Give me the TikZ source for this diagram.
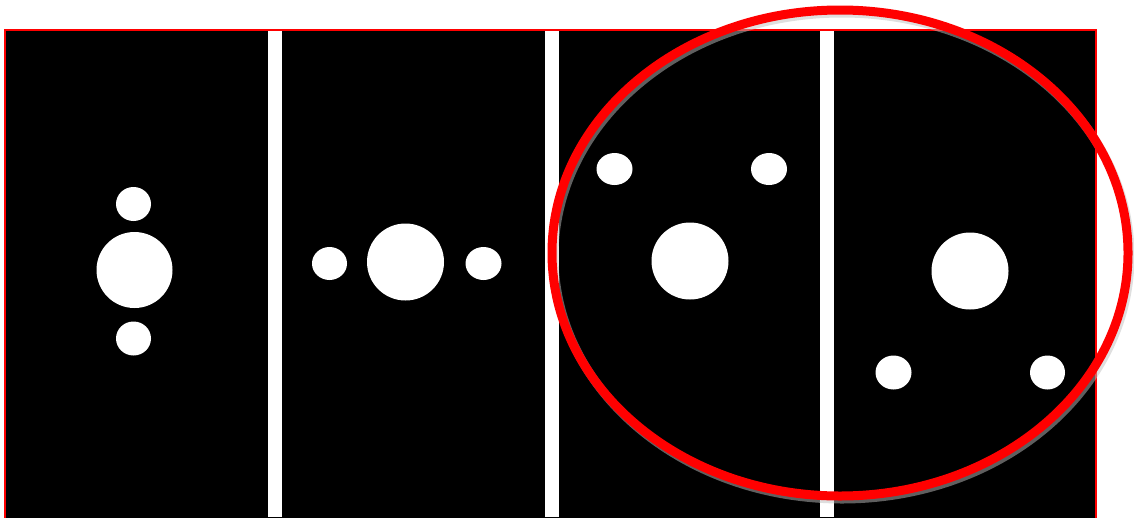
\documentclass[tikz,border=0pt]{standalone}
\begin{document}
\begin{tikzpicture}[x=1pt,y=-1pt,
  bigdot/.style={fill=white},
  smalldot/.style={fill=white},
  stripe/.style={fill=white},
  ring/.style={draw=red,line width=9pt}]
\useasboundingbox (0,0) rectangle (1134,517);
\clip (0,0) rectangle (1134,517);
% black panel with thin red border
\filldraw[fill=black,draw=red,line width=1.5pt] (5,30) rectangle (1096,530);
% white separating stripes
\fill[stripe] (268,31) rectangle (282,517);
\fill[stripe] (545,31) rectangle (559,517);
\fill[stripe] (820,31) rectangle (834,517);
% panel 1
\fill[bigdot] (134.5,270) circle[radius=38];
\fill[smalldot] (133.5,204) ellipse[x radius=17.5,y radius=17];
\fill[smalldot] (133.5,338.5) ellipse[x radius=17.5,y radius=17];
% panel 2
\fill[bigdot] (405.5,262) circle[radius=38.5];
\fill[smalldot] (329.5,263.5) ellipse[x radius=17.5,y radius=16.5];
\fill[smalldot] (483.5,263.5) ellipse[x radius=18,y radius=16.5];
% panel 3
\fill[bigdot] (690,261) circle[radius=38.5];
\fill[smalldot] (614.5,169) ellipse[x radius=18,y radius=16];
\fill[smalldot] (769,169) ellipse[x radius=18,y radius=16];
% panel 4
\fill[bigdot] (970,271) circle[radius=38.5];
\fill[smalldot] (893.5,372.5) ellipse[x radius=18,y radius=17];
\fill[smalldot] (1047.5,372.5) ellipse[x radius=17.5,y radius=17];
% red ellipse highlight with soft shadow
\draw[black!25,line width=9pt,opacity=0.5] (842,256) ellipse[x radius=288,y radius=243];
\draw[ring] (840,253) ellipse[x radius=288,y radius=243];
\end{tikzpicture}
\end{document}
